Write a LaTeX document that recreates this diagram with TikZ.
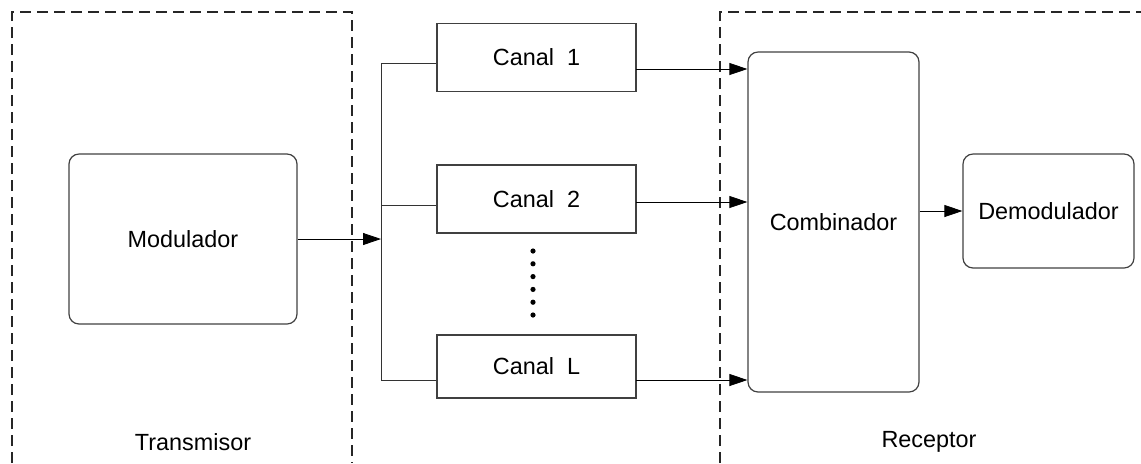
\documentclass[tikz,border=0pt]{standalone}
\usepackage{fontspec}
\setmainfont{Liberation Sans}
\usetikzlibrary{arrows.meta}

\begin{document}
\begin{tikzpicture}[x=0.5pt,y=-0.5pt,>={Triangle[length=9pt,width=6pt]},
      font=\fontsize{11.7}{14}\selectfont,
      box/.style={draw=black!75,line width=0.6pt,inner sep=0pt,
        minimum width=99.5pt,minimum height=34pt},
      rbox/.style={draw=black!75,line width=0.6pt,inner sep=0pt,
        rounded corners=5pt},
      zone/.style={draw=black!85,line width=0.6pt,dash pattern=on 5.5pt off 3pt},
      wire/.style={draw=black!80,line width=0.5pt}]
      \useasboundingbox (0,0) rectangle (1141,463);

      % zonas
      \draw[zone] (12,463) -- (12,12) -- (352,12) -- (352,463);
      \draw[zone] (720,463) -- (720,12) -- (1141,12);
      \node (tx) at (193,442) {Transmisor};
      \node (rx) at (929,442) {Receptor};

      \node[rbox, minimum width=114pt, minimum height=85pt] (mod) at (183,239) {Modulador};

      \node[box] (c1) at (536.5,57.5) {Canal~~1};
      \node[box] (c2) at (536.5,199) {Canal~~2};
      \node[box, minimum height=31.5pt] (cL) at (536.5,366.5) {Canal~~L};
      \foreach \i in {0,...,5}
        \fill (533,251+12.8*\i) circle (1.3pt);

      \node[rbox, minimum width=85.5pt, minimum height=170pt] (comb) at (833.5,222) {Combinador};
      \node[rbox, minimum width=85.5pt, minimum height=57pt] (dem) at (1048.5,211) {Demodulador};

      \coordinate (b1) at (381,63);
      \coordinate (b2) at (381,205);
      \coordinate (bL) at (381,380);
      \coordinate (o1) at (636,69);
      \coordinate (o2) at (636,202);
      \coordinate (oL) at (636,380);

      \draw[->] (mod.east) -- (mod.east -| b1);
      \draw[wire] (b1) -- (bL);
      \draw[wire] (b1) -- (b1 -| c1.west);
      \draw[wire] (b2) -- (b2 -| c2.west);
      \draw[wire] (bL) -- (bL -| cL.west);

      \draw[->] (o1) -- (o1 -| comb.west);
      \draw[->] (o2) -- (o2 -| comb.west);
      \draw[->] (oL) -- (oL -| comb.west);
      \draw[->] (comb.east |- dem.west) -- (dem.west);
\end{tikzpicture}
\end{document}
